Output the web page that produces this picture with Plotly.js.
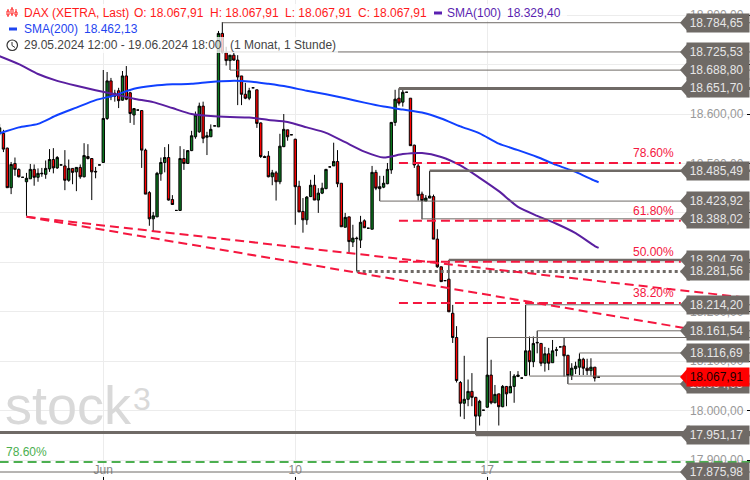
<!DOCTYPE html>
<html><head><meta charset="utf-8">
<script src="https://cdn.plot.ly/plotly-3.0.1.min.js"></script>
<style>html,body{margin:0;padding:0;background:#fff}#c{width:750px;height:480px}</style>
</head><body><div id="c"></div>
<script>
const opens=[18560,18561,18531,18451,18500,18488,18472,18463,18469,18488,
18472,18479,18478,18489,18508,18491,18497,18495,18466,18490,
18483,18492,18473,18514,18510,18484,18497,18502,18591,18667,
18636,18647,18628,18677,18643,18598,18608,18607,18527,18441,
18388,18392,18479,18502,18512,18427,18405,18405,18510,18500,
18526,18554,18564,18616,18553,18554,18576,18574,18763,18724,
18708,18719,18709,18677,18640,18632,18653,18649,18582,18514,
18515,18473,18481,18463,18534,18568,18558,18549,18454,18403,
18386,18433,18456,18426,18440,18449,18493,18495,18504,18460,
18371,18392,18341,18349,18345,18384,18369,18367,18482,18449,
18452,18459,18487,18583,18632,18624,18644,18632,18537,18495,
18438,18424,18430,18433,18347,18291,18263,18266,18197,18148,
18057,18015,18023,18039,18027,17989,18001,18007,18072,18016,
18034,18008,18049,18036,18049,18069,18066,18071,18121,18099,
18137,18136,18096,18115,18097,18122,18129,18131,18112,18071,
18085,18088,18104,18086,18081,18088,18067.91];
const highs=[18580,18568,18532,18503,18512,18490,18472,18481,18499,18498,
18490,18491,18506,18529,18531,18515,18497,18527,18508,18490,
18492,18498,18541,18539,18511,18493,18497,18689,18685,18673,
18649,18653,18687,18697,18645,18612,18608,18607,18530,18444,
18402,18483,18512,18533,18539,18436,18405,18535,18529,18527,
18566,18605,18623,18625,18564,18579,18576,18768,18786,18736,
18719,18724,18719,18677,18663,18653,18653,18649,18583,18516,
18525,18487,18485,18560,18600,18568,18558,18550,18465,18430,
18434,18467,18477,18450,18461,18489,18493,18542,18527,18460,
18400,18392,18376,18352,18394,18387,18369,18495,18487,18475,
18475,18501,18584,18649,18652,18652,18644,18632,18538,18503,
18443,18436,18485,18437,18367,18291,18263,18305,18214,18171,
18060,18111,18063,18076,18028,18022,18001,18148,18103,18052,
18034,18052,18050,18080,18074,18080,18066,18214,18150,18150,
18161.54,18137,18129,18127,18143,18129,18129,18148,18113,18096,
18099,18116,18107,18105,18106,18088,18067.91];
const lows=[18556,18523,18451,18438,18475,18472,18472,18394,18469,18455,
18463,18473,18469,18483,18480,18489,18497,18446,18463,18458,
18444,18469,18472,18508,18426,18470,18497,18501,18588,18628,
18625,18612,18627,18628,18582,18578,18608,18491,18438,18374,
18363,18392,18465,18482,18425,18416,18405,18404,18487,18499,
18525,18550,18562,18541,18517,18554,18576,18574,18723,18698,
18689,18708,18618,18618,18630,18628,18653,18572,18511,18511,
18472,18456,18425,18458,18533,18546,18558,18376,18402,18360,
18376,18432,18426,18400,18438,18448,18493,18495,18452,18372,
18371,18318,18331,18281.56,18329,18370,18369,18367,18446,18424,
18450,18458,18479,18576,18617,18615,18644,18536,18491,18425,
18387,18424,18430,18347,18289,18261,18263,18200,18137,18057,
17988,17983,18009,18009,17951.17,17970,18001,18006,18013,18015,
17970,18007,18009,18036,18016,18068,18066,18070,18071,18088,
18116,18090,18079,18082,18097,18110,18129,18069,18054,18062,
18074,18072,18072,18072,18071,18059,18067.91];
const closes=[18572,18529,18451,18498,18488,18473,18472,18470,18488,18472,
18480,18480,18490,18508,18491,18512,18497,18466,18490,18482,
18492,18473,18516,18510,18483,18483,18497,18591,18667,18635,
18642,18627,18677,18630,18601,18611,18608,18527,18438,18388,
18394,18480,18502,18512,18426,18417,18405,18510,18500,18526,
18556,18598,18616,18551,18556,18569,18576,18763,18725,18708,
18719,18709,18675,18640,18632,18647,18653,18581,18514,18512,
18473,18481,18463,18535,18569,18554,18558,18453,18402,18386,
18432,18456,18426,18440,18450,18488,18493,18504,18459,18372,
18391,18342,18349,18348,18381,18370,18369,18482,18450,18453,
18460,18488,18583,18630,18622,18644,18644,18536,18497,18435,
18425,18430,18434,18347,18291,18261,18263,18200,18148,18061,
18015,18023,18039,18027,17989,18019,18001,18072,18016,18033,
18008,18049,18034,18049,18070,18072,18066,18121,18099,18136,
18138,18096,18115,18096,18121,18123,18129,18111,18071,18086,
18090,18104,18086,18081,18088,18066,18067.91];

const smaIndex=[0,5,10,15,20,25,30,35,40,45,50,55,60,65,70,75,80,85,90,95,100,105,110,115,120,125,130,135,140,145,150,155,156];
const sma200=[18561,18573,18580,18598,18613,18628,18638,18651,18657,18660,18661,18665,18667,18666,18661,18655,18647,18640,18632,18623,18615,18609,18603,18591,18575,18561,18540,18527,18513,18497,18483,18465,18462.13];
const sma100=[18717,18701,18681,18667,18657,18648,18640,18631,18624,18612,18600,18596,18594,18593,18588,18584,18573,18562,18543,18524,18512,18519,18521,18513,18496,18471,18444,18412,18394,18378,18359,18333,18329.40];

// horizontal price levels: price, first bar, line width, dash
const levelPrices=[18784.65,18725.53,18688.80,18651.70,18485.49,18423.92,18388.02,18304.79,18281.56,18214.20,18161.54,18148,18116.69,18070,18054,17956,17951.17,17875.98];
const levelStarts=[58,58,60,104,112,99,110,117,93,137,140,127,151,138,148,0,124,0];
const levelWidths=[1,1,1,3,2.5,1,1,2.5,3,1,1,1,1,1,1,3,3,1];
const levelDots=[0,0,0,0,0,0,0,0,1,0,0,0,0,0,0,0,0,0];
// labelled tags, drawn in this order (later ones lie over earlier ones)
const tagPrices=[18784.65,18725.53,18688.80,18651.70,18485.49,18423.92,18388.02,18304.79,18281.56,18214.20,18161.54,18116.69,18054,17951.17,17875.98];
const tagLabels=["18.784,65","18.725,53","18.688,80","18.651,70","18.485,49","18.423,92","18.388,02","18.304,79","18.281,56","18.214,20","18.161,54","18.116,69","18.054,05","17.951,17","17.875,98"];
const lastPrice=18067.91, lastLabel="18.067,91";

const fibPrices=[18501,18384,18301,18218];
const fibLabels=["78.60%","61.80%","50.00%","38.20%"];
const greenFib=17896;
const trendStart=[7,18392];
const trendUpperEnd=[194,18229];
const trendLowerEnd=[178.5,18167];

const yTicks=[18800,18700,18600,18500,18400,18300,18200,18100,18000,17900];
const xTickVals=[27,77,127], xTickText=["Jun","10","17"];

const xEdge=195.42, GREY='#6f6a66', RED='#f5173f', FONT='"Liberation Sans",Arial,sans-serif';
const bars=opens.map((_,i)=>i);
const shapes=[], annotations=[];

function txt(t,px,py,color,size,extra){
  annotations.push(Object.assign({text:t,xref:'paper',yref:'paper',x:px/750,y:1-py/480,xanchor:'left',yanchor:'middle',showarrow:false,
    font:{family:FONT,size:size||12,color:color},borderpad:0},extra||{}));
}
// watermark
txt('stock',4,405,'#d9d9d9',54);
txt('3',132,399,'#d9d9d9',32);

// levels
levelPrices.forEach((p,k)=>{
  shapes.push({type:'line',layer:'above',xref:'x',yref:'y',x0:levelStarts[k],x1:xEdge,y0:p,y1:p,
    line:{color:GREY,width:levelWidths[k],dash:levelDots[k]?'3px,3px':'solid'}});
});
// fibonacci
fibPrices.forEach((p,k)=>{
  shapes.push({type:'line',layer:'above',xref:'x',yref:'y',x0:104,x1:177.4,y0:p,y1:p,line:{color:RED,width:2,dash:'9px,5px'}});
  annotations.push({text:fibLabels[k],xref:'x',yref:'y',x:176.2,y:p,yshift:10,xanchor:'right',yanchor:'middle',showarrow:false,font:{family:FONT,size:12,color:RED}});
});
shapes.push({type:'line',layer:'above',xref:'x',yref:'y',x0:0,x1:xEdge,y0:greenFib,y1:greenFib,line:{color:'#4caf50',width:2,dash:'9px,5px'}});
annotations.push({text:'78.60%',xref:'paper',yref:'y',x:3.5/750,y:greenFib,yshift:10,xanchor:'left',yanchor:'middle',showarrow:false,font:{family:FONT,size:12,color:'#4caf50'}});
// trendlines
[trendUpperEnd,trendLowerEnd].forEach(e=>{
  shapes.push({type:'line',layer:'above',xref:'x',yref:'y',x0:trendStart[0],y0:trendStart[1],x1:e[0],y1:e[1],line:{color:RED,width:2,dash:'9px,5px'}});
});
// price tags
function tag(p,label,bg,fg){
  shapes.push({type:'path',layer:'above',xref:'paper',yref:'y',xsizemode:'pixel',ysizemode:'pixel',xanchor:1,yanchor:p,
    path:'M -70 0 L -62 -9 L -60 -9 L -60 9 L -62 9 Z',fillcolor:bg,line:{width:0}});
  annotations.push({text:label+'&nbsp;',xref:'paper',yref:'y',x:1,y:p,xanchor:'right',yanchor:'middle',showarrow:false,
    width:62,height:18,align:'center',bgcolor:bg,borderpad:0,font:{family:FONT,size:12,color:fg}});
}
tagPrices.forEach((p,k)=>tag(p,tagLabels[k],GREY,'#e6e6e6'));
tag(lastPrice,lastLabel,'#ff0000','#1a0000');

// legend backing
[[0,567,4,21],[0,140,21,37],[0,338,37,53]].forEach(r=>{
  shapes.push({type:'rect',layer:'above',xref:'paper',yref:'paper',x0:r[0]/750,x1:r[1]/750,y0:1-r[3]/480,y1:1-r[2]/480,fillcolor:'rgba(255,255,255,0.78)',line:{width:0}});
});
const LRED='#ff1a1a', LBLUE='#1f45f0', LPUR='#5a1fb0', LGR='#444444';
txt('DAX (XETRA, Last)',23,13,LRED);
txt('O: 18.067,91',133,13,LRED);
txt('H: 18.067,91',208.5,13,LRED);
txt('L: 18.067,91',283.5,13,LRED);
txt('C: 18.067,91',356.5,13,LRED);
txt('SMA(100)',446,13,LPUR);
txt('18.329,40',506,13,LPUR);
txt('SMA(200)',22.5,29,LBLUE);
txt('18.462,13',82.5,29,LBLUE);
txt('29.05.2024 12:00 - 19.06.2024 18:00',22.5,45,LGR);
txt('(1 Monat, 1 Stunde)',228.5,45,LGR);
function pxShape(o){shapes.push(Object.assign({layer:'above',xref:'paper',yref:'paper'},o));}
function pxRect(x0,y0,x1,y1,col,lineCol){pxShape({type:'rect',x0:x0/750,x1:x1/750,y0:1-y1/480,y1:1-y0/480,fillcolor:col,line:lineCol?{color:lineCol,width:1}:{width:0}});}
function pxLine(x0,y0,x1,y1,col,w){pxShape({type:'line',x0:x0/750,x1:x1/750,y0:1-y0/480,y1:1-y1/480,line:{color:col,width:w||1}});}
pxLine(8,9,8,17,LRED);pxLine(12,7,12,16,LRED);pxLine(16,9,16,17,LRED);
pxRect(7,11,9,15,'#fff',LRED);pxRect(11,9,13,14,'#fff',LRED);pxRect(15,12,17,15,'#fff',LRED);
pxRect(434,11.5,442,14.5,LPUR);
pxRect(9,27.5,17,30.5,LBLUE);
pxShape({type:'circle',x0:7/750,x1:17.5/750,y0:1-50.5/480,y1:1-40/480,fillcolor:'rgba(0,0,0,0)',line:{color:'#333',width:1.2}});
pxLine(12,42,12,45.5,'#333');pxLine(12,45.5,15,47.5,'#333');

const traces=[
 {type:'candlestick',x:bars,open:opens,high:highs,low:lows,close:closes,whiskerwidth:0,
  increasing:{line:{color:'#000',width:1},fillcolor:'#0a7a1e'},
  decreasing:{line:{color:'#000',width:1},fillcolor:'#ff0000'},hoverinfo:'skip',showlegend:false},
 {type:'scatter',mode:'lines',x:smaIndex,y:sma200,line:{color:'#1040ff',width:2,shape:'spline',smoothing:0.6},hoverinfo:'skip',showlegend:false},
 {type:'scatter',mode:'lines',x:smaIndex,y:sma100,line:{color:'#5a1fa0',width:2,shape:'spline',smoothing:0.6},hoverinfo:'skip',showlegend:false}
];
const layout={width:750,height:480,margin:{l:0,r:0,t:0,b:0},paper_bgcolor:'#fff',plot_bgcolor:'#fff',showlegend:false,
 separators:',.',boxgap:0.12,font:{family:FONT,size:12,color:'#999'},
 xaxis:{range:[0.104,xEdge],tickmode:'array',tickvals:xTickVals,ticktext:xTickText,showgrid:true,gridcolor:'#ececec',gridwidth:1,zeroline:false,
  ticks:'inside',ticklen:3,tickcolor:'#000',ticklabelposition:'inside',tickfont:{family:FONT,size:12,color:'#888'},rangeslider:{visible:false},showline:false},
 yaxis:{range:[17859.8,18830.6],side:'right',tickmode:'array',tickvals:yTicks,tickformat:',.2f',showgrid:true,gridcolor:'#ececec',gridwidth:1,zeroline:false,
  ticks:'inside',ticklen:3,tickcolor:'#000',ticklabelposition:'inside',ticklabelstandoff:3,tickfont:{family:FONT,size:12,color:'#999'},showline:false},
 shapes:shapes,annotations:annotations};
Plotly.newPlot('c',traces,layout,{staticPlot:true,displayModeBar:false});
</script></body></html>
